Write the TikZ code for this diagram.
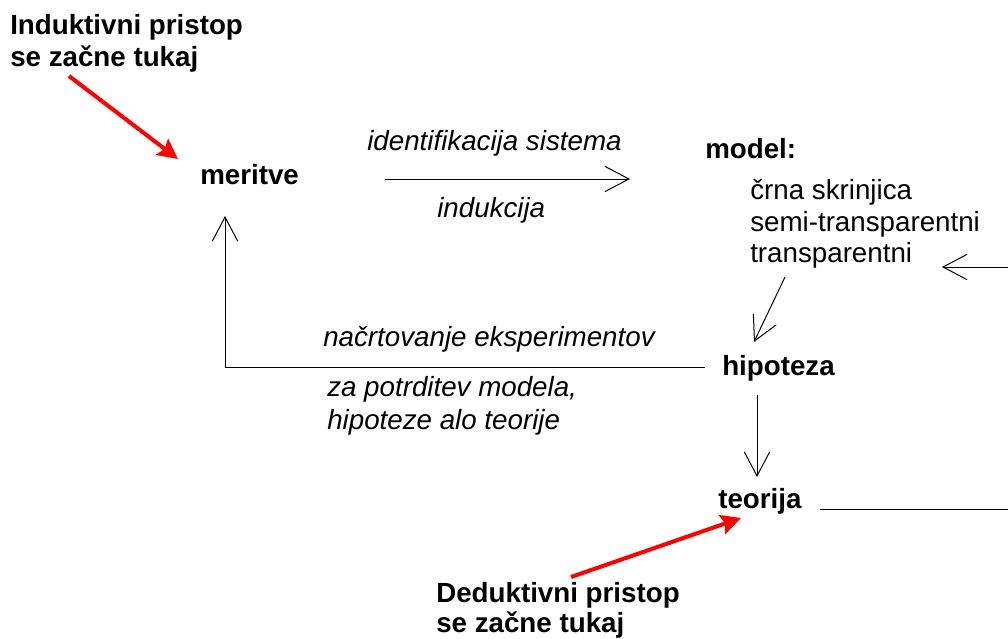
\documentclass[tikz,border=0pt]{standalone}
\usepackage{fontspec}
\setmainfont{Liberation Sans}
\usetikzlibrary{arrows.meta}
\tikzset{
  lbl/.style={inner sep=0pt, anchor=base west, font=\fontsize{20.8}{23.4}\selectfont},
  bl/.style={lbl, font=\fontsize{20.8}{23.4}\selectfont\bfseries},
  il/.style={lbl, font=\fontsize{20.8}{23.4}\selectfont\itshape},
  conn/.style={line width=0.75pt, black},
  arr/.style={conn, -{Straight Barb[length=18pt, width=19pt, line width=0.75pt]}},
  redarr/.style={line width=3pt, red, -{Stealth[length=15pt, width=15pt, inset=2.5pt]}}
}
\begin{document}
\begin{tikzpicture}[x=0.75pt, y=-0.75pt]
\useasboundingbox (0,0) rectangle (1008,639);
% labels
\node[bl] (ind1) at (10,35) {Induktivni pristop};
\node[bl] (ind2) at (10,66) {se začne tukaj};
\node[bl] (meritve) at (200,184) {meritve};
\node[il] (ident) at (367,150) {identifikacija sistema};
\node[il] (indukcija) at (437,217) {indukcija};
\node[bl] (model) at (705,158) {model:};
\node[lbl] (crna) at (750,199) {črna skrinjica};
\node[lbl] (semi) at (750,231) {semi-transparentni};
\node[lbl] (transp) at (750,262) {transparentni};
\node[bl] (hipoteza) at (722,375) {hipoteza};
\node[il] (nacrt) at (323,346) {načrtovanje eksperimentov};
\node[il] (potrd1) at (327,396) {za potrditev modela,};
\node[il] (potrd2) at (327,429) {hipoteze alo teorije};
\node[bl] (teorija) at (718,508) {teorija};
\node[bl] (ded1) at (436,602) {Deduktivni pristop};
\node[bl] (ded2) at (436,632) {se začne tukaj};
% coordinates
\coordinate (a1s) at (385,179);
\coordinate (a1e) at (630,179);
\coordinate (rin) at (1008,267);
\coordinate (rine) at (942,267);
\coordinate (mhs) at (785,277);
\coordinate (mhe) at (754,342);
\coordinate (hls) at (705,367);
\coordinate (corner) at (225,367);
\coordinate (mtop) at (225,216);
\coordinate (hts) at (757,395);
\coordinate (hte) at (757,477);
\coordinate (tls) at (820,509);
\coordinate (tle) at (1008,509);
\coordinate (r1s) at (69,76);
\coordinate (r1e) at (178,159);
\coordinate (r2s) at (571,577);
\coordinate (r2e) at (741,518);
% connectors
\draw[arr] (a1s) -- (a1e);
\draw[arr] (rin) -- (rine);
\draw[arr] (mhs) -- (mhe);
\draw[arr] (hls) -- (corner) -- (mtop);
\draw[arr] (hts) -- (hte);
\draw[conn] (tls) -- (tle);
\draw[redarr] (r1s) -- (r1e);
\draw[redarr] (r2s) -- (r2e);
\end{tikzpicture}
\end{document}
